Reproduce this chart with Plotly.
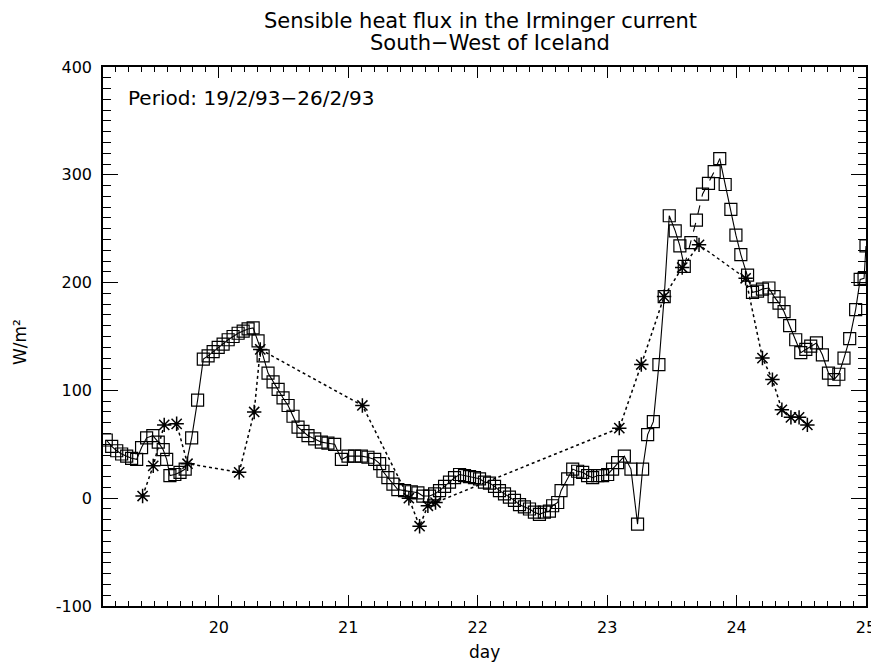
import numpy as np
import plotly.graph_objects as go

# ---- data: squares (solid line) ----
sq_day = [19.13, 19.172, 19.211, 19.249, 19.288, 19.326, 19.365, 19.403, 19.442, 19.49,
          19.532, 19.57, 19.597, 19.622, 19.66, 19.70, 19.74, 19.79, 19.836, 19.88,
          19.917, 19.956, 19.995, 20.033, 20.072, 20.11, 20.149, 20.188, 20.226, 20.265,
          20.303, 20.342, 20.38, 20.419, 20.458, 20.496, 20.535, 20.573, 20.612, 20.65,
          20.689, 20.741, 20.792, 20.843, 20.895, 20.947, 20.998, 21.049, 21.101, 21.152,
          21.204, 21.242, 21.268, 21.306, 21.345, 21.383, 21.435, 21.487, 21.538, 21.576,
          21.628, 21.667, 21.705, 21.744, 21.782, 21.821, 21.86, 21.898, 21.937, 21.975,
          22.014, 22.052, 22.091, 22.13, 22.168, 22.207, 22.245, 22.284, 22.323, 22.361,
          22.40, 22.438, 22.477, 22.515, 22.554, 22.579, 22.618, 22.644, 22.695, 22.734,
          22.772, 22.811, 22.849, 22.888, 22.927, 22.965, 23.004, 23.042, 23.081, 23.133,
          23.184, 23.235, 23.274, 23.313, 23.357, 23.40, 23.441, 23.48, 23.526, 23.562,
          23.596, 23.647, 23.69, 23.737, 23.783, 23.827, 23.87, 23.912, 23.956, 23.995,
          24.033, 24.085, 24.123, 24.162, 24.20, 24.25, 24.29, 24.328, 24.367, 24.41,
          24.457, 24.496, 24.535, 24.573, 24.617, 24.663, 24.71, 24.753, 24.79, 24.83,
          24.874, 24.92, 24.955, 24.985, 25.0]
sq_val = [54, 48, 44, 41, 39, 37, 36, 47, 56, 58,
          52, 45, 36, 21, 22, 24, 27, 56, 91, 129,
          132, 136, 140, 143, 147, 150, 153, 155, 157, 158,
          146, 132, 116, 108, 101, 93, 86, 76, 66, 62,
          58, 55, 52, 51, 50, 36, 39, 39, 39, 38,
          36, 32, 25, 19, 13, 8, 7, 6, 5, 2,
          2, 4, 7, 11, 15, 19, 22, 21, 20, 19,
          18, 15, 14, 11, 7, 4, 1, -2, -6, -8,
          -10, -13, -15, -13, -12, -7, -4, 7, 18, 27,
          25, 24, 21, 19, 21, 21, 22, 27, 33, 39,
          27, -24, 27, 59, 71, 124, 187, 262, 248, 234,
          215, 237, 258, 282, 292, 303, 315, 291, 268, 244,
          226, 207, 191, 192, 194, 195, 187, 181, 173, 160,
          147, 135, 138, 141, 144, 133, 116, 110, 115, 130,
          148, 175, 203, 204, 234]

# ---- data: asterisks (dotted line) ----
st_day = [19.411, 19.493, 19.578, 19.674, 19.758, 20.157, 20.273, 20.32, 21.109, 21.468,
          21.551, 21.615, 21.674, 23.094, 23.264, 23.44, 23.58, 23.71, 24.07, 24.20,
          24.277, 24.35, 24.42, 24.483, 24.547]
st_val = [2, 30, 68, 69, 32, 24, 80, 138, 86, 0,
          -26, -7, -4, 65, 124, 187, 214, 235, 204, 130,
          110, 82, 75, 75, 68]

# tick labels
x_ticks = [20, 21, 22, 23, 24, 25]
y_ticks = [-100, 0, 100, 200, 300, 400]

# style: span of the square series drawn with a dashed line
DASH_SPAN = (23.59, 23.88)

FONT = "DejaVu Sans"
X_RANGE = [19.105, 25]
Y_RANGE = [-100, 400]
PAGE_OFFSET = 8  # default body margin of the html page

sd = np.array(sq_day)
sv = np.array(sq_val)
i0 = int(np.argmin(np.abs(sd - DASH_SPAN[0])))
i1 = int(np.argmin(np.abs(sd - DASH_SPAN[1])))

fig = go.Figure()
line_style = dict(color="black", width=1.1)
fig.add_trace(go.Scatter(x=sd[:i0 + 1], y=sv[:i0 + 1], mode="lines", line=line_style))
fig.add_trace(go.Scatter(x=sd[i0:i1 + 1], y=sv[i0:i1 + 1], mode="lines",
                         line=dict(color="black", width=1.1, dash="dash")))
fig.add_trace(go.Scatter(x=sd[i1:], y=sv[i1:], mode="lines", line=line_style))
fig.add_trace(go.Scatter(x=sd, y=sv, mode="markers",
                         marker=dict(symbol="square-open", size=12, color="black",
                                     line=dict(color="black", width=1.2))))
fig.add_trace(go.Scatter(x=st_day, y=st_val, mode="lines+markers",
                         line=dict(color="black", width=1.5, dash="dot"),
                         marker=dict(symbol="asterisk-open", size=12, color="black",
                                     line=dict(color="black", width=1.5))))

axis_common = dict(showgrid=False, zeroline=False, showline=True, linecolor="black",
                   linewidth=1.5, mirror="ticks", ticks="inside", tickcolor="black",
                   tickwidth=1, automargin=False,
                   tickfont=dict(family=FONT, size=16, color="black"))

x_minor = np.round(np.arange(19.2, 25.0, 0.1), 2)
y_minor = np.arange(-90, 400, 10)

fig.update_xaxes(range=X_RANGE, tickmode="array", tickvals=x_ticks,
                 ticktext=[str(v) for v in x_ticks],
                 ticklen=11, ticklabelstandoff=6,
                 minor=dict(ticks="inside", tickmode="array", tickvals=x_minor, ticklen=5,
                            tickcolor="black", tickwidth=1, showgrid=False),
                 **axis_common)
fig.update_yaxes(range=Y_RANGE, tickmode="array", tickvals=y_ticks,
                 ticktext=[str(v) for v in y_ticks],
                 ticklen=15, ticklabelstandoff=6,
                 minor=dict(ticks="inside", tickmode="array", tickvals=y_minor, ticklen=8,
                            tickcolor="black", tickwidth=1, showgrid=False),
                 **axis_common)

W, H = 879, 662
left, right, top, bottom = 103, 866, 67, 606  # plot box in page pixels
txt = dict(family=FONT, color="black")
fig.update_layout(
    width=W, height=H,
    margin=dict(l=left - PAGE_OFFSET, r=W - right + PAGE_OFFSET,
                t=top - PAGE_OFFSET, b=H - bottom + PAGE_OFFSET),
    paper_bgcolor="white", plot_bgcolor="white",
    showlegend=False,
    font=txt,
    annotations=[
        dict(text="Sensible heat flux in the Irminger current", xref="paper", yref="paper",
             x=0.5, y=1, xanchor="center", yanchor="middle", yshift=46, xshift=-4,
             showarrow=False, font=dict(size=21, **txt)),
        dict(text="South\u2212West of Iceland", xref="paper", yref="paper",
             x=0.5, y=1, xanchor="center", yanchor="middle", yshift=24, xshift=5,
             showarrow=False, font=dict(size=21, **txt)),
        dict(text="Period: 19/2/93\u221226/2/93", xref="paper", yref="paper", x=0, y=1,
             xanchor="left", yanchor="middle", xshift=23, yshift=-31, showarrow=False,
             font=dict(size=20, **txt)),
        dict(text="day", xref="paper", yref="paper", x=0.5, y=0,
             xanchor="center", yanchor="middle", yshift=-46, showarrow=False,
             font=dict(size=17, **txt)),
        dict(text="W/m\u00b2", xref="paper", yref="paper", x=0, y=(bottom - 342) / (bottom - top),
             xanchor="center", yanchor="middle", xshift=-83, textangle=-90,
             showarrow=False, font=dict(size=17, **txt)),
    ],
)

fig.write_html("out.html")
